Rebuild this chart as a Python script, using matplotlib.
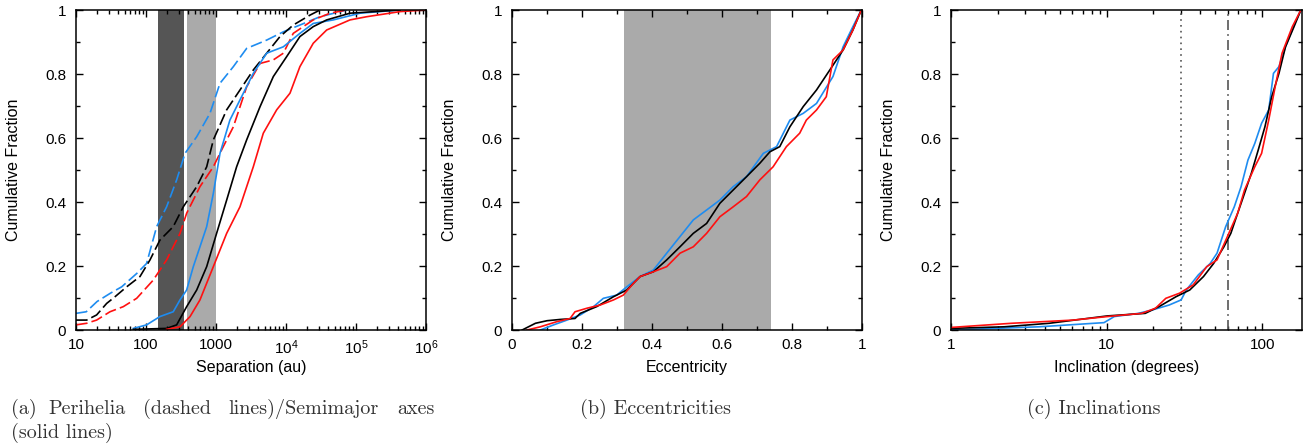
import matplotlib
matplotlib.use("Agg")
import matplotlib.pyplot as plt

# --- panel (a): separations (au) vs cumulative fraction ---
peri_blue_sep = [10, 14, 20, 31, 45, 74, 102, 142, 197, 274, 361, 530, 820, 1140, 1770, 2740, 5300, 9200, 15800, 30600, 73600]
peri_blue_frac = [.052, .057, .089, .115, .135, .177, .208, .323, .385, .469, .552, .604, .677, .771, .823, .88, .906, .932, .953, .979, 1.0]
peri_black_sep = [10, 14.2, 19.7, 27.4, 36.1, 53, 82, 114, 158, 245, 341, 530, 736, 916, 1420, 2200, 3410, 5300, 8200, 12700, 22000, 30600]
peri_black_frac = [.031, .031, .047, .083, .104, .135, .167, .219, .281, .323, .385, .448, .51, .594, .688, .75, .8125, .865, .917, .953, .984, 1.0]
peri_red_sep = [10, 14.2, 19.7, 30.6, 47.4, 73.6, 127, 197, 306, 381, 590, 916, 1270, 1770, 2740, 4260, 6590, 9160, 12700, 24500, 42600, 73600]
peri_red_frac = [.016, .021, .031, .057, .073, .099, .156, .219, .302, .365, .448, .51, .573, .635, .76, .833, .844, .865, .927, .969, .99, 1.0]

semi_blue_sep = [66, 102, 158, 245, 306, 381, 474, 590, 736, 916, 1140, 1580, 2200, 3410, 5300, 9160, 15800, 24500, 47400, 114000, 426000]
semi_blue_frac = [.005, .016, .042, .057, .094, .125, .198, .26, .323, .427, .552, .656, .719, .802, .865, .885, .927, .958, .969, .99, 1.0]
semi_black_sep = [66, 197, 274, 381, 530, 736, 1020, 1420, 1970, 2740, 4260, 6590, 10200, 15800, 24500, 38100, 82000, 426000]
semi_black_frac = [.002, .005, .016, .073, .125, .198, .302, .406, .51, .594, .698, .792, .854, .917, .948, .969, .99, 1.0]
semi_red_sep = [197, 306, 426, 590, 916, 1420, 2200, 3410, 4740, 7360, 11400, 15800, 24500, 38100, 82000, 142000, 426000, 1000000]
semi_red_frac = [.002, .01, .042, .094, .198, .302, .385, .51, .615, .688, .74, .823, .896, .9375, .969, .979, .995, 1.0]

sep_band_dark = (150, 350)
sep_band_light = (385, 1000)

# --- panel (b): eccentricities ---
ecc_black = [.029, .067, .1, .138, .18, .195, .242, .29, .328, .366, .404, .442, .48, .518, .556, .594, .632, .67, .708, .737, .765, .794, .832, .87, .908, .946, .974, .998]
ecc_black_frac = [0, .021, .029, .033, .036, .052, .073, .104, .125, .167, .182, .219, .26, .302, .333, .396, .4375, .479, .521, .557, .573, .635, .698, .75, .8125, .875, .9375, 1.0]
ecc_blue = [.081, .119, .157, .195, .233, .261, .299, .328, .366, .404, .442, .48, .518, .556, .594, .632, .67, .718, .756, .794, .832, .87, .917, .946, .974, .998]
ecc_blue_frac = [0, .016, .031, .047, .073, .099, .109, .135, .167, .1875, .24, .292, .344, .375, .406, .448, .479, .552, .573, .656, .677, .708, .792, .885, .948, 1.0]
ecc_red = [.043, .081, .128, .166, .18, .214, .252, .29, .318, .347, .366, .404, .442, .48, .518, .556, .594, .632, .67, .708, .746, .784, .822, .841, .87, .898, .917, .946, .974, .998]
ecc_red_frac = [0, .01, .026, .036, .057, .068, .078, .094, .109, .146, .167, .182, .198, .24, .26, .302, .354, .385, .417, .469, .51, .573, .615, .656, .6875, .729, .844, .875, .9375, 1.0]

ecc_band = (0.32, 0.74)

# --- panel (c): inclinations (degrees) ---
inc_black = [1, 2.2, 4.28, 10.1, 17.7, 21.7, 27.9, 34.2, 41.9, 48.7, 56.7, 62.8, 69.5, 76.9, 85.1, 94.2, 104, 115, 128, 141, 160, 177]
inc_black_frac = [.005, .01, .021, .044, .052, .073, .104, .125, .167, .208, .26, .302, .365, .427, .49, .5625, .635, .729, .802, .885, .948, 1.0]
inc_blue = [1, 3.68, 9.62, 11.2, 16, 19.6, 25.2, 30.1, 32.5, 38.8, 46.3, 51.2, 58.2, 66.1, 73.1, 80.9, 89.5, 99, 110, 118, 128, 141, 160, 177]
inc_blue_frac = [0, .01, .023, .042, .052, .0625, .078, .094, .125, .172, .208, .24, .323, .385, .448, .531, .583, .646, .6875, .802, .823, .885, .953, 1.0]
inc_red = [1, 2.45, 6.1, 10.1, 16.8, 20.6, 24, 29.4, 36, 44, 51.2, 59.7, 69.5, 76.9, 89.5, 99, 110, 121, 134, 156, 177]
inc_red_frac = [.008, .021, .031, .042, .052, .068, .099, .115, .141, .198, .219, .292, .365, .4375, .51, .552, .656, .76, .865, .948, 1.0]

inc_marks = [30, 60]

BLUE = '#1e8cf0'
RED = '#ff1010'
BLACK = 'black'
W, H = 1306, 447

plt.rcParams['font.family'] = ['Liberation Sans', 'DejaVu Sans']
plt.rcParams['mathtext.fontset'] = 'custom'
plt.rcParams['mathtext.rm'] = 'Liberation Sans'
plt.rcParams['mathtext.it'] = 'Liberation Sans:italic'

fig = plt.figure(figsize=(W / 100, H / 100), dpi=100)


def style_axes(ax, left, right):
    for s in ax.spines.values():
        s.set_linewidth(1.1)
    ax.tick_params(which='both', direction='in', top=True, right=True, labelsize=11)
    ax.tick_params(which='major', length=5, width=1)
    ax.tick_params(which='minor', length=3, width=1)
    ax.tick_params(axis='y', pad=7)
    ax.tick_params(axis='x', pad=6)
    ax.set_ylim(0, 1)
    ax.set_yticks([0, 0.2, 0.4, 0.6, 0.8, 1.0])
    ax.set_yticklabels(['0', '0.2', '0.4', '0.6', '0.8', '1'])
    ax.set_yticks([0.1, 0.3, 0.5, 0.7, 0.9], minor=True)
    ax.set_ylabel('Cumulative Fraction', fontsize=11.5)
    ax.yaxis.set_label_coords(-55 / (right - left), 0.5)
    ax.xaxis.set_label_coords(0.5, -30 / 320)


def px_axes(left, right, top=10, bottom=330):
    return fig.add_axes([left / W, 1 - bottom / H, (right - left) / W, (bottom - top) / H])


dash = dict(linestyle=(0, (7, 2.5)))

# (a)
ax1 = px_axes(76, 426)
ax1.set_xscale('log')
ax1.axvspan(*sep_band_dark, color='#555555', lw=0)
ax1.axvspan(*sep_band_light, color='#aaaaaa', lw=0)
ax1.plot(peri_blue_sep, peri_blue_frac, color=BLUE, lw=1.2, **dash)
ax1.plot(peri_black_sep, peri_black_frac, color=BLACK, lw=1.2, **dash)
ax1.plot(peri_red_sep, peri_red_frac, color=RED, lw=1.2, **dash)
ax1.plot(semi_blue_sep, semi_blue_frac, color=BLUE, lw=1.2)
ax1.plot(semi_black_sep, semi_black_frac, color=BLACK, lw=1.2)
ax1.plot(semi_red_sep, semi_red_frac, color=RED, lw=1.2)
ax1.set_xlim(10, 1e6)
ax1.set_xticks([10, 100, 1000, 1e4, 1e5, 1e6])
ax1.set_xticklabels(['10', '100', '1000', '$10^4$', '$10^5$', '$10^6$'])
ax1.set_xlabel('Separation (au)', fontsize=11.5)
style_axes(ax1, 76, 426)

# (b)
ax2 = px_axes(512, 862)
ax2.axvspan(*ecc_band, color='#aaaaaa', lw=0)
ax2.plot(ecc_blue, ecc_blue_frac, color=BLUE, lw=1.2)
ax2.plot(ecc_black, ecc_black_frac, color=BLACK, lw=1.2)
ax2.plot(ecc_red, ecc_red_frac, color=RED, lw=1.2)
ax2.set_xlim(0, 1)
ax2.set_xticks([0, 0.2, 0.4, 0.6, 0.8, 1.0])
ax2.set_xticklabels(['0', '0.2', '0.4', '0.6', '0.8', '1'])
ax2.set_xticks([0.1, 0.3, 0.5, 0.7, 0.9], minor=True)
ax2.set_xlabel('Eccentricity', fontsize=11.5)
style_axes(ax2, 512, 862)

# (c)
ax3 = px_axes(951, 1302)
ax3.set_xscale('log')
ax3.axvline(inc_marks[0], color='#555555', lw=1.2, linestyle=(0, (1, 2.5)))
ax3.axvline(inc_marks[1], color='#555555', lw=1.2, linestyle=(0, (6, 2.5, 1, 2.5)))
ax3.plot(inc_blue, inc_blue_frac, color=BLUE, lw=1.2)
ax3.plot(inc_black, inc_black_frac, color=BLACK, lw=1.2)
ax3.plot(inc_red, inc_red_frac, color=RED, lw=1.2)
ax3.set_xlim(1, 180)
ax3.set_xticks([1, 10, 100])
ax3.set_xticklabels(['1', '10', '100'])
ax3.set_xlabel('Inclination (degrees)', fontsize=11.5)
style_axes(ax3, 951, 1302)

# captions (serif, justified first line for (a))
cap = dict(family='cmr10', fontsize=14.5, color='#333333', va='center')
words_a = [('(a)', 11), ('Perihelia', 48), ('(dashed', 143), ('lines)/Semimajor', 228), ('axes', 397)]
for w, x in words_a:
    fig.text(x / W, 1 - 409 / H, w, ha='left', **cap)
fig.text(11 / W, 1 - 433 / H, '(solid lines)', ha='left', **cap)
fig.text(655 / W, 1 - 409 / H, '(b) Eccentricities', ha='center', **cap)
fig.text(1094 / W, 1 - 409 / H, '(c) Inclinations', ha='center', **cap)

fig.savefig('out.png', dpi=100)
